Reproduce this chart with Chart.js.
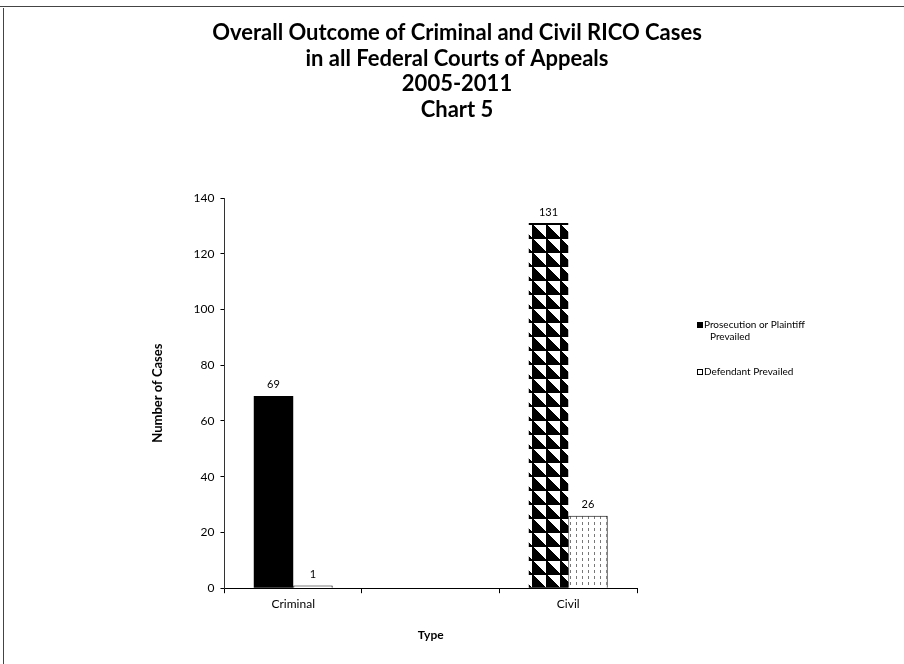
<!DOCTYPE html>
<html>
<head>
<meta charset="utf-8">
<script src="https://cdn.jsdelivr.net/npm/chart.js@4.4.1/dist/chart.umd.min.js"></script>
<style>
  html, body { margin: 0; padding: 0; background: #fff; }
  #wrap { width: 904px; height: 664px; }
</style>
</head>
<body>
<div id="wrap"><canvas id="ricoChart" width="904" height="664"></canvas></div>
<script>
// chart data (the blank middle category is an empty slot in the original sheet)
var titleLines = ['Overall Outcome of Criminal and Civil RICO Cases', 'in all Federal Courts of Appeals', '2005-2011', 'Chart 5'];
var categories = ['Criminal', '', 'Civil'];
var seriesNames = ['Prosecution or Plaintiff Prevailed', 'Defendant Prevailed'];
var prosecutionPrevailed = [69, null, 131];
var defendantPrevailed = [1, null, 26];
var yTicks = [0, 20, 40, 60, 80, 100, 120, 140];

Chart.defaults.font.family = 'Lato';
Chart.defaults.color = '#000';

// sawtooth black/white fill, looks like the scanned civil bar
function sawPattern() {
    var c = document.createElement('canvas');
    c.width = 14; c.height = 14;
    var g = c.getContext('2d');
    g.fillStyle = '#fff';
    g.fillRect(0, 0, 14, 14);
    g.fillStyle = '#000';
    for (var r = 0; r < 14; r++) {
        g.fillRect(0, r, r + 1, 1);
    }
    g.fillRect(0, 0, 14, 1);
    return g.createPattern(c, 'repeat');
}

// light fill with sparse vertical strokes
function dotPattern() {
    var c = document.createElement('canvas');
    c.width = 6; c.height = 6;
    var g = c.getContext('2d');
    g.fillStyle = '#fff';
    g.fillRect(0, 0, 6, 6);
    g.fillStyle = '#777';
    g.fillRect(0, 0, 1, 3);
    return g.createPattern(c, 'repeat');
}

var saw = sawPattern();
var dots = dotPattern();

// page frame lines (top and left edge of the scan)
var framePlugin = {
    id: 'frame',
    beforeDraw: function(chart) {
        var ctx = chart.ctx;
        ctx.save();
        ctx.fillStyle = '#fff';
        ctx.fillRect(0, 0, chart.width, chart.height);
        ctx.strokeStyle = '#444';
        ctx.lineWidth = 1;
        ctx.beginPath();
        ctx.moveTo(0, 6.5); ctx.lineTo(chart.width, 6.5);
        ctx.moveTo(3.5, 8); ctx.lineTo(3.5, chart.height);
        ctx.stroke();
        ctx.restore();
    }
};

// title centred on the whole page, not on the plot
var pageTitle = {
    id: 'pageTitle',
    afterDraw: function(chart) {
        var ctx = chart.ctx;
        ctx.save();
        ctx.font = 'bold 22px Lato';
        ctx.fillStyle = '#000';
        ctx.textAlign = 'center';
        ctx.textBaseline = 'middle';
        titleLines.forEach(function(t, i) {
            ctx.fillText(t, chart.width / 2 + 5, 33 + i * 25.5);
        });
        ctx.restore();
    }
};

// value labels above every bar
var valueLabels = {
    id: 'valueLabels',
    afterDatasetsDraw: function(chart) {
        var ctx = chart.ctx;
        ctx.save();
        ctx.font = '11px Lato';
        ctx.fillStyle = '#000';
        ctx.textAlign = 'center';
        ctx.textBaseline = 'middle';
        chart.data.datasets.forEach(function(ds, i) {
            chart.getDatasetMeta(i).data.forEach(function(bar, j) {
                var v = ds.data[j];
                if (v === null) return;
                ctx.fillText(String(v), bar.x, bar.y - 11);
            });
        });
        ctx.restore();
    }
};

// legend on the right, wrapped like the Excel one
var sideLegend = {
    id: 'sideLegend',
    afterDraw: function(chart) {
        var ctx = chart.ctx, a = chart.chartArea;
        var x = a.right + 60;
        var tops = [a.top + 127, a.top + 174];
        ctx.save();
        ctx.font = '10px Lato';
        ctx.textBaseline = 'middle';
        chart.data.datasets.forEach(function(ds, i) {
            // word wrap at about 115px
            var words = ds.label.split(' '), lines = [], cur = '';
            words.forEach(function(w) {
                var t = cur ? cur + ' ' + w : w;
                if (ctx.measureText(t).width > 115 && cur) { lines.push(cur); cur = w; } else { cur = t; }
            });
            lines.push(cur);
            var y = tops[i];
            ctx.fillStyle = ds.backgroundColor[0];
            ctx.fillRect(x, y - 3, 6, 6);
            ctx.strokeStyle = '#000';
            ctx.lineWidth = 1;
            if (i === 1) ctx.strokeRect(x + 0.5, y - 2.5, 5, 5);
            ctx.fillStyle = '#000';
            lines.forEach(function(l, k) {
                ctx.fillText(l, x + (k === 0 ? 7 : 13), y + k * 12);
            });
        });
        ctx.restore();
    }
};

var rico = new Chart(document.getElementById('ricoChart'), {
    type: 'bar',
    data: {
        labels: categories,
        datasets: [{
            label: seriesNames[0],
            data: prosecutionPrevailed,
            backgroundColor: ['#000', '#000', saw],
            borderWidth: 0,
            categoryPercentage: 0.574,
            barPercentage: 1
        }, {
            label: seriesNames[1],
            data: defendantPrevailed,
            backgroundColor: [dots, dots, dots],
            borderColor: '#000',
            borderWidth: 1,
            categoryPercentage: 0.574,
            barPercentage: 1
        }]
    },
    options: {
        responsive: false,
        animation: false,
        layout: { padding: { top: 198, right: 267, bottom: 22, left: 0 } },
        plugins: {
            legend: { display: false },
            tooltip: { enabled: false },
            title: { display: false }
        },
        scales: {
            x: {
                offset: true,
                grid: { offset: true, drawOnChartArea: false, tickLength: 5, color: '#000' },
                border: { color: '#000' },
                ticks: { font: { size: 12 }, padding: 4 },
                title: { display: true, text: 'Type', font: { size: 12, weight: 'bold' }, padding: { top: 12, bottom: 0 } }
            },
            y: {
                min: yTicks[0],
                max: yTicks[yTicks.length - 1],
                ticks: { stepSize: yTicks[1] - yTicks[0], font: { size: 12 }, padding: 6 },
                grid: { drawOnChartArea: false, tickLength: 4, color: '#000' },
                border: { color: '#333' },
                title: { display: true, text: 'Number of Cases', font: { size: 13, weight: 'bold' }, padding: { top: 150, bottom: 22 } }
            }
        }
    },
    plugins: [framePlugin, pageTitle, valueLabels, sideLegend]
});
</script>
</body>
</html>
